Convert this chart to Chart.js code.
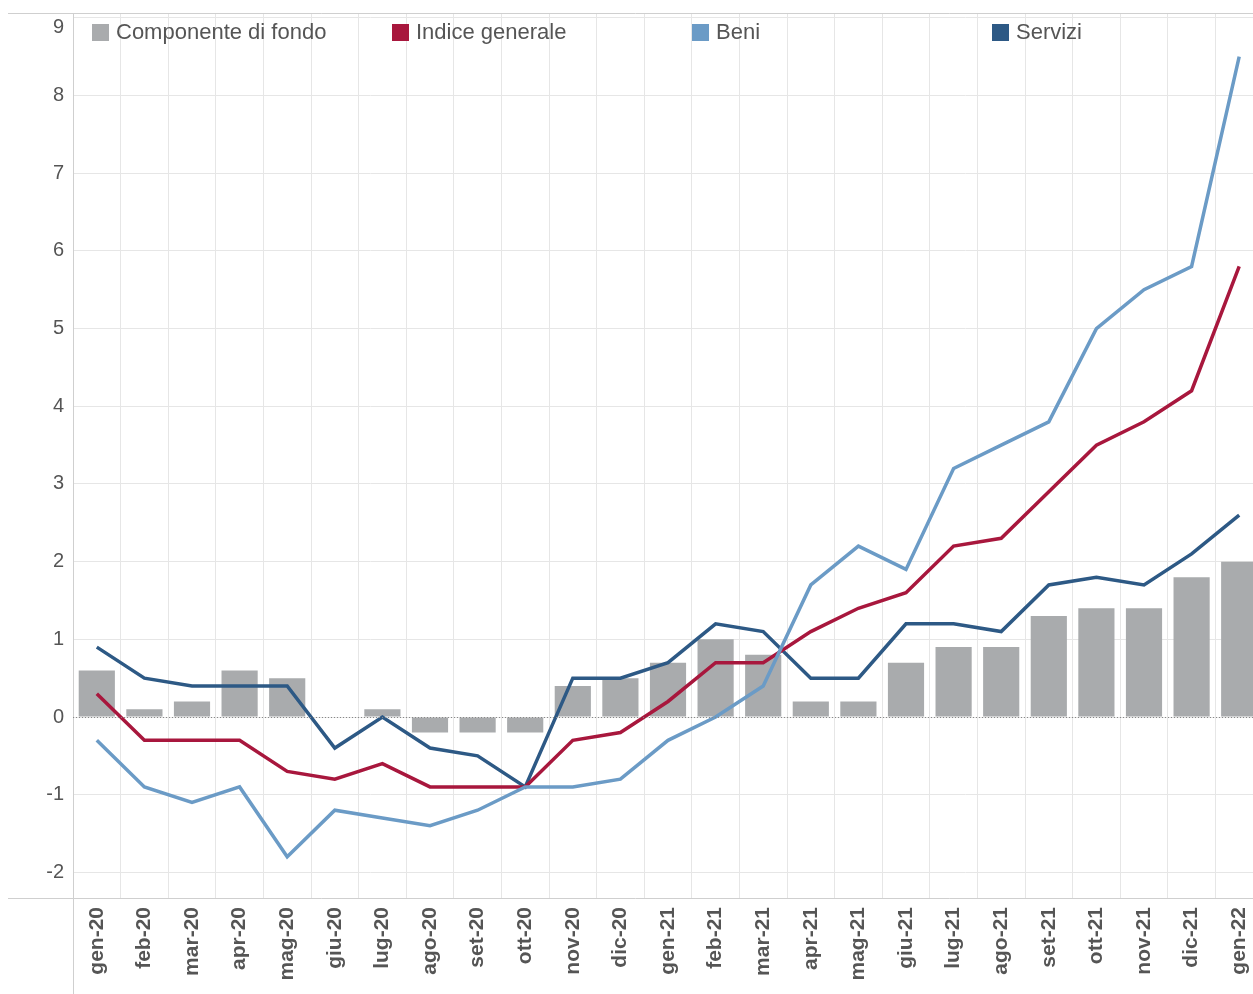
<!DOCTYPE html>
<html>
<head>
<meta charset="utf-8">
<script src="https://cdn.jsdelivr.net/npm/chart.js@4"></script>
<style>
    html, body { margin: 0; padding: 0; background: #fff; overflow: hidden; }
    #wrap { position: relative; width: 1263px; height: 994px; }
    #legend { position: absolute; top: 0; left: 0; width: 1253px; height: 60px; font-family: "Liberation Sans", Arial, sans-serif; font-size: 22px; color: #555; }
    .item { position: absolute; top: 20px; height: 24px; line-height: 24px; white-space: nowrap; }
    .box { display: inline-block; width: 17px; height: 17px; vertical-align: -2px; margin-right: 7px; }
</style>
</head>
<body>
<div id="wrap">
    <canvas id="chart" width="1263" height="994"></canvas>
    <div id="legend"></div>
</div>
<script>
// mesi
const mesi = ['gen-20', 'feb-20', 'mar-20', 'apr-20', 'mag-20', 'giu-20', 'lug-20', 'ago-20', 'set-20', 'ott-20',
    'nov-20', 'dic-20', 'gen-21', 'feb-21', 'mar-21', 'apr-21', 'mag-21', 'giu-21', 'lug-21', 'ago-21',
    'set-21', 'ott-21', 'nov-21', 'dic-21', 'gen-22'];

// serie
const componenteFondo = [0.6, 0.1, 0.2, 0.6, 0.5, 0.0, 0.1, -0.2, -0.2, -0.2,
    0.4, 0.5, 0.7, 1.0, 0.8, 0.2, 0.2, 0.7, 0.9, 0.9,
    1.3, 1.4, 1.4, 1.8, 2.0];
const indiceGenerale = [0.3, -0.3, -0.3, -0.3, -0.7, -0.8, -0.6, -0.9, -0.9, -0.9,
    -0.3, -0.2, 0.2, 0.7, 0.7, 1.1, 1.4, 1.6, 2.2, 2.3,
    2.9, 3.5, 3.8, 4.2, 5.8];
const beni = [-0.3, -0.9, -1.1, -0.9, -1.8, -1.2, -1.3, -1.4, -1.2, -0.9,
    -0.9, -0.8, -0.3, 0.0, 0.4, 1.7, 2.2, 1.9, 3.2, 3.5,
    3.8, 5.0, 5.5, 5.8, 8.5];
const servizi = [0.9, 0.5, 0.4, 0.4, 0.4, -0.4, 0.0, -0.4, -0.5, -0.9,
    0.5, 0.5, 0.7, 1.2, 1.1, 0.5, 0.5, 1.2, 1.2, 1.1,
    1.7, 1.8, 1.7, 2.1, 2.6];

const yTicks = [-2, -1, 0, 1, 2, 3, 4, 5, 6, 7, 8, 9];
const yTop = 9; // etichetta spostata sotto il bordo

const colori = {
    fondo: '#a9abad',
    indice: '#a8173d',
    beni: '#6b9bc6',
    servizi: '#2d5985'
};
const fontAssi = '"Liberation Sans", Arial, sans-serif';

// legenda html
const legendItems = [
    { label: 'Componente di fondo', color: colori.fondo, left: 92 },
    { label: 'Indice generale', color: colori.indice, left: 392 },
    { label: 'Beni', color: colori.beni, left: 692 },
    { label: 'Servizi', color: colori.servizi, left: 992 }
];
const legendDiv = document.getElementById('legend');
legendItems.forEach(it => {
    const el = document.createElement('div');
    el.className = 'item';
    el.style.left = it.left + 'px';
    el.innerHTML = '<span class="box" style="background:' + it.color + '"></span>' + it.label;
    legendDiv.appendChild(el);
});

// bordi, linea dello zero ed etichetta 9
const cornice = {
    id: 'cornice',
    beforeDatasetsDraw(chart) {
        const ctx = chart.ctx;
        const a = chart.chartArea;
        ctx.save();
        ctx.strokeStyle = '#cfcfcf';
        ctx.lineWidth = 1;
        ctx.beginPath();
        ctx.moveTo(8, Math.round(a.top) - 0.5); ctx.lineTo(chart.width, Math.round(a.top) - 0.5);
        ctx.moveTo(8, Math.round(a.bottom) + 0.5); ctx.lineTo(chart.width, Math.round(a.bottom) + 0.5);
        ctx.moveTo(Math.round(a.left) + 0.5, a.top); ctx.lineTo(Math.round(a.left) + 0.5, chart.height);
        ctx.stroke();

        const ys = chart.scales.y;
        ctx.fillStyle = '#555';
        ctx.font = '20px ' + fontAssi;
        ctx.textAlign = 'right';
        ctx.textBaseline = 'middle';
        ctx.fillText(String(yTop), a.left - 9, ys.getPixelForValue(yTop) + 10);
        ctx.restore();
    },
    afterDatasetsDraw(chart) {
        const ctx = chart.ctx;
        const a = chart.chartArea;
        const y0 = Math.round(chart.scales.y.getPixelForValue(0)) + 0.5;
        ctx.save();
        ctx.strokeStyle = '#888';
        ctx.lineWidth = 1;
        ctx.setLineDash([1, 2]);
        ctx.beginPath();
        ctx.moveTo(a.left, y0); ctx.lineTo(a.right, y0);
        ctx.stroke();
        ctx.restore();
    }
};

const ctx = document.getElementById('chart').getContext('2d');
const lineaBase = { type: 'line', borderWidth: 3.5, pointRadius: 0, tension: 0, fill: false };

new Chart(ctx, {
    data: {
        labels: mesi,
        datasets: [
            Object.assign({}, lineaBase, { label: 'Beni', data: beni, borderColor: colori.beni, order: 1 }),
            Object.assign({}, lineaBase, { label: 'Indice generale', data: indiceGenerale, borderColor: colori.indice, order: 2 }),
            Object.assign({}, lineaBase, { label: 'Servizi', data: servizi, borderColor: colori.servizi, order: 3 }),
            {
                type: 'bar',
                label: 'Componente di fondo',
                data: componenteFondo,
                backgroundColor: colori.fondo,
                barPercentage: 0.76,
                categoryPercentage: 1.0,
                order: 4
            }
        ]
    },
    options: {
        responsive: false,
        animation: false,
        layout: { padding: { top: 14, left: 0, right: 0, bottom: 0 } },
        plugins: {
            legend: { display: false },
            tooltip: { enabled: false }
        },
        scales: {
            x: {
                grid: { color: '#e6e6e6', offset: true, drawTicks: false },
                border: { display: false },
                ticks: {
                    color: '#555',
                    font: { family: fontAssi, size: 21, weight: 'bold' },
                    minRotation: 90,
                    maxRotation: 90,
                    padding: 9,
                    autoSkip: false
                },
                afterFit(scale) {
                    scale.height = 96;
                    scale.paddingLeft = 0;
                    scale.paddingRight = 0;
                }
            },
            y: {
                min: -2.33,
                max: 9.05,
                grid: { color: '#e6e6e6', drawTicks: false },
                border: { display: false },
                ticks: {
                    color: '#555',
                    font: { family: fontAssi, size: 20 },
                    padding: 9,
                    callback: v => (v === yTop ? '' : v)
                },
                afterBuildTicks(scale) {
                    scale.ticks = yTicks.map(v => ({ value: v }));
                },
                afterFit(scale) {
                    scale.width = 73;
                    scale.paddingTop = 0;
                    scale.paddingBottom = 0;
                }
            }
        }
    },
    plugins: [cornice]
});
</script>
</body>
</html>
